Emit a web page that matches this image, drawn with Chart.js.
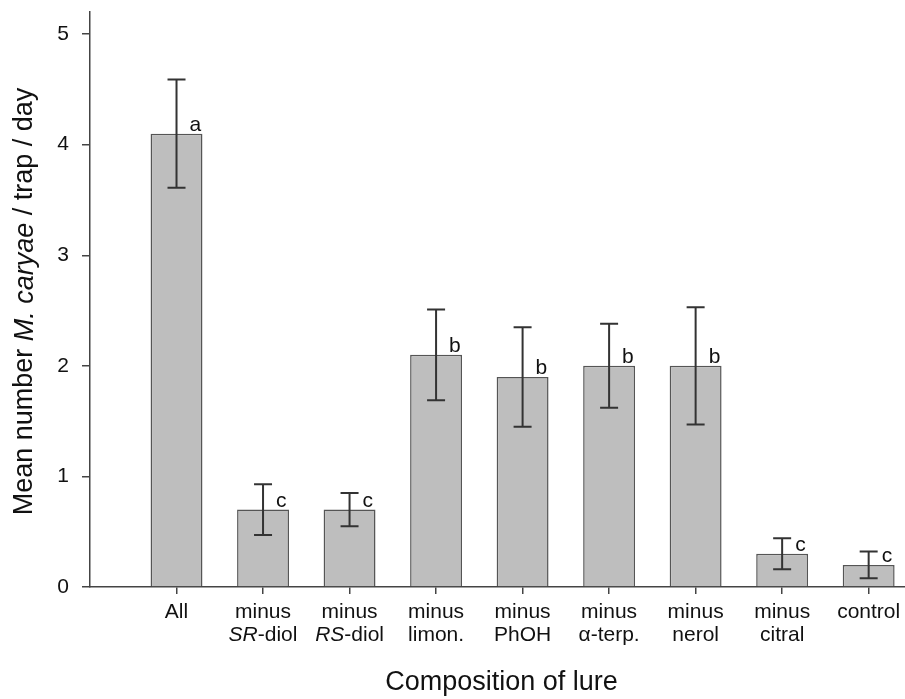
<!DOCTYPE html>
<html>
<head>
<meta charset="utf-8">
<script src="https://cdn.jsdelivr.net/npm/chart.js@4.4.0/dist/chart.umd.min.js"></script>
<style>
  body { margin: 0; background: #fff; }
  canvas { display: block; }
</style>
</head>
<body>
<canvas id="chart" width="905" height="699"></canvas>
<script>
// data
const categories = [
  ['All'],
  ['minus', '<i>SR</i>-diol'],
  ['minus', '<i>RS</i>-diol'],
  ['minus', 'limon.'],
  ['minus', 'PhOH'],
  ['minus', 'α-terp.'],
  ['minus', 'nerol'],
  ['minus', 'citral'],
  ['control']
];
const means = [4.1, 0.7, 0.7, 2.1, 1.9, 2.0, 2.0, 0.3, 0.2];
const errors = [0.49, 0.23, 0.15, 0.41, 0.45, 0.38, 0.53, 0.14, 0.12];
const letters = ['a', 'c', 'c', 'b', 'b', 'b', 'b', 'c', 'c'];
const yTicks = [0, 1, 2, 3, 4, 5];

const FONT = '"Liberation Sans", Arial, Helvetica, sans-serif';
const AXIS = '#444';

// text made of plain and <i>italic</i> pieces, centred on cx
function richParts(str) {
  return str.split(/(<i>.*?<\/i>)/).filter(s => s.length).map(s => {
    const m = s.match(/^<i>(.*)<\/i>$/);
    return m ? { t: m[1], i: true } : { t: s, i: false };
  });
}
function richWidth(ctx, parts, size) {
  let w = 0;
  parts.forEach(p => {
    ctx.font = (p.i ? 'italic ' : '') + size + 'px ' + FONT;
    w += ctx.measureText(p.t).width;
  });
  return w;
}
function drawRich(ctx, str, cx, cy, size) {
  const parts = richParts(str);
  let x = cx - richWidth(ctx, parts, size) / 2;
  ctx.textAlign = 'left';
  ctx.textBaseline = 'middle';
  parts.forEach(p => {
    ctx.font = (p.i ? 'italic ' : '') + size + 'px ' + FONT;
    ctx.fillText(p.t, x, cy);
    x += ctx.measureText(p.t).width;
  });
}

const extras = {
  id: 'extras',
  afterDatasetsDraw(chart) {
    const ctx = chart.ctx;
    const y = chart.scales.y;
    const meta = chart.getDatasetMeta(0);
    ctx.save();
    meta.data.forEach((bar, i) => {
      const top = y.getPixelForValue(means[i] + errors[i]);
      const bot = y.getPixelForValue(means[i] - errors[i]);
      ctx.strokeStyle = '#333';
      ctx.lineWidth = 2;
      ctx.beginPath();
      ctx.moveTo(bar.x, top); ctx.lineTo(bar.x, bot);
      ctx.moveTo(bar.x - 9, top); ctx.lineTo(bar.x + 9, top);
      ctx.moveTo(bar.x - 9, bot); ctx.lineTo(bar.x + 9, bot);
      ctx.stroke();

      ctx.fillStyle = '#111';
      ctx.font = '21px ' + FONT;
      ctx.textAlign = 'left';
      ctx.textBaseline = 'alphabetic';
      ctx.fillText(letters[i], bar.x + 13, bar.y - 3);
    });
    ctx.restore();
  },
  afterDraw(chart) {
    const ctx = chart.ctx;
    const x = chart.scales.x;
    const area = chart.chartArea;
    ctx.save();
    ctx.fillStyle = '#111';
    categories.forEach((lines, i) => {
      const px = x.getPixelForValue(i + 1);
      lines.forEach((line, k) => drawRich(ctx, line, px, 612 + k * 23, 21));
    });
    // axis titles
    drawRich(ctx, 'Composition of lure', (area.left + area.right) / 2 + 4, 683, 27);
    ctx.translate(25, (area.top + area.bottom) / 2 + 2);
    ctx.rotate(-Math.PI / 2);
    drawRich(ctx, 'Mean number <i>M. caryae</i> / trap / day', 0, 0, 27);
    ctx.restore();
  }
};

new Chart(document.getElementById('chart'), {
  type: 'bar',
  data: {
    datasets: [{
      data: means.map((v, i) => ({ x: i + 1, y: v })),
      backgroundColor: '#bebebe',
      borderColor: '#555',
      borderWidth: 1.5,
      barPercentage: 0.6,
      categoryPercentage: 1
    }]
  },
  options: {
    responsive: false,
    animation: false,
    layout: { padding: { top: 12, right: 0, left: 0, bottom: 0 } },
    plugins: { legend: { display: false }, tooltip: { enabled: false } },
    scales: {
      x: {
        type: 'linear',
        offset: false,
        min: 0,
        max: 9.42,
        afterBuildTicks: s => { s.ticks = categories.map((_, i) => ({ value: i + 1 })); },
        afterFit: s => { s.height = 112; s.paddingLeft = 0; s.paddingRight = 0; },
        ticks: { autoSkip: false, callback: () => '' },
        grid: { offset: false, drawOnChartArea: false, tickLength: 7, color: AXIS, lineWidth: 1.5 },
        border: { display: true, color: AXIS, width: 1.5 }
      },
      y: {
        min: 0,
        max: 5.2,
        afterBuildTicks: s => { s.ticks = yTicks.map(v => ({ value: v })); },
        afterFit: s => { s.width = 90; s.paddingTop = 0; s.paddingBottom = 0; },
        ticks: { font: { family: FONT, size: 21 }, color: '#111', padding: 13 },
        grid: { drawOnChartArea: false, tickLength: 8, color: AXIS, lineWidth: 1.5 },
        border: { display: true, color: AXIS, width: 1.5 }
      }
    }
  },
  plugins: [extras]
});
</script>
</body>
</html>
